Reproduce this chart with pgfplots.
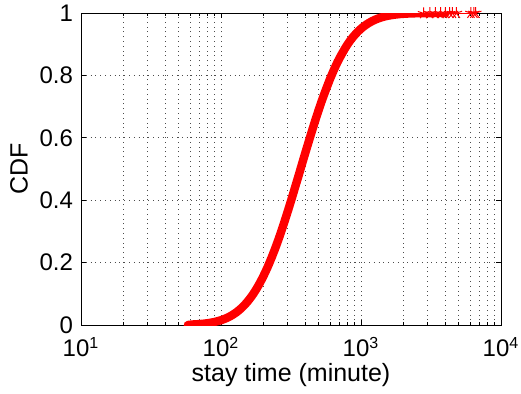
\documentclass[border=0pt]{standalone}
\usepackage{fontspec}
\setmainfont{Liberation Sans}
\usepackage{pgfplots}
\pgfplotsset{compat=1.18}
\begin{document}
\begin{tikzpicture}
\begin{axis}[
  name=ax,
  scale only axis,
  width=210pt, height=156pt,
  xmode=log,
  xmin=10, xmax=10000,
  ymin=0, ymax=1,
  xtick={10,100,1000,10000},
  xticklabels={10\textsuperscript{1},10\textsuperscript{2},10\textsuperscript{3},10\textsuperscript{4}},
  ytick={0,0.2,0.4,0.6,0.8,1},
  yticklabels={0,0.2,0.4,0.6,0.8,1},
  tick align=inside,
  major tick length=2.5pt,
  minor tick length=1.5pt,
  tick style={black, line width=0.4pt},
  axis line style={black, line width=0.5pt},
  grid=both,
  ymajorgrids=true, yminorgrids=false,
  xmajorgrids=true, xminorgrids=true,
  major grid style={dotted, gray!60!black, line width=0.4pt},
  minor grid style={dotted, gray!60!black, line width=0.4pt},
  ticklabel style={font=\fontsize{12}{14}\selectfont},
  label style={font=\fontsize{12.5}{14}\selectfont},
  xlabel={stay time (minute)},
  ylabel={CDF},
  xlabel style={yshift=4pt},
  ylabel style={yshift=-1pt},
  xticklabel style={yshift=-2.5pt},
  yticklabel style={xshift=-0.5pt},
]
\addplot[red, line width=4.2pt, line cap=round, line join=round, smooth, tension=0.4] coordinates {
(58,0.000) (62,0.0016) (68,0.0026) (75,0.0042) (82,0.0064) (90,0.0098)
(100,0.0154) (110,0.0226) (120,0.0315) (130,0.0421) (140,0.0543)
(150,0.0681) (160,0.0832) (170,0.0996) (180,0.1172) (190,0.1357)
(200,0.155) (215,0.185) (230,0.2165) (245,0.248) (260,0.280) (275,0.312)
(290,0.344) (305,0.375) (320,0.4055) (340,0.445) (360,0.482) (380,0.518)
(400,0.5516) (420,0.583) (445,0.620) (470,0.654) (500,0.691) (530,0.724)
(560,0.753) (600,0.788) (640,0.8175) (680,0.843) (720,0.864) (770,0.887)
(820,0.906) (880,0.924) (950,0.9404) (1020,0.953) (1100,0.964)
(1200,0.974) (1300,0.981) (1420,0.9869) (1550,0.991) (1700,0.9941)
(1900,0.9966) (2200,0.9984) (2600,0.9994) (3000,0.9997) (3500,0.9999)
(4000,0.9999)
};
\addplot[red, line width=0.8pt, mark=star, mark size=3pt, mark options={line width=0.5pt}] coordinates {
(2800,0.999) (3100,0.9993) (3400,0.9994) (3700,0.9995) (4000,0.9996)
(4300,0.9997) (4500,0.9998) (4800,0.9998) (6100,0.9999) (6400,1.0) (6600,1.0)
};
\end{axis}
\pgfresetboundingbox
\path ([xshift=-40.5pt,yshift=-34pt]ax.south west) rectangle ([xshift=10pt,yshift=6.5pt]ax.north east);
\end{tikzpicture}
\end{document}
